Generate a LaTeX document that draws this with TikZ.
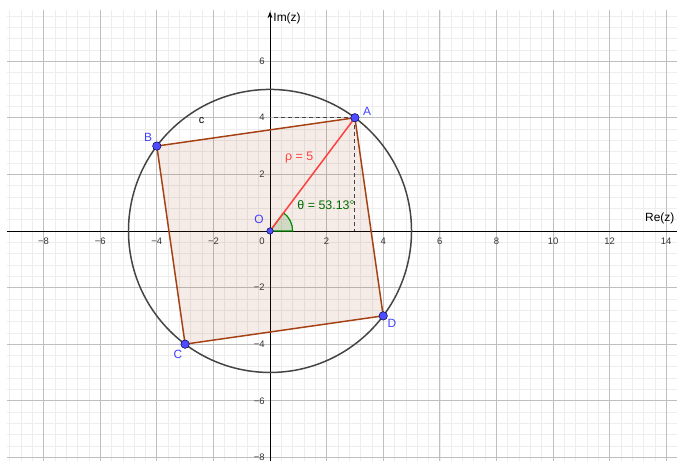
\documentclass[tikz,border=0pt]{standalone}
\usepackage{fontspec}
\setmainfont{Liberation Sans}
\usetikzlibrary{arrows.meta,positioning}
\definecolor{ptblue}{RGB}{77,77,255}
\definecolor{lblblue}{RGB}{64,64,255}
\definecolor{polybrown}{RGB}{165,65,20}
\definecolor{circgray}{RGB}{68,68,68}
\definecolor{rhored}{RGB}{255,64,64}
\definecolor{anggreen}{RGB}{0,110,0}

\begin{document}
\begin{tikzpicture}[>=Stealth, every node/.style={font=\fontsize{9.5}{10}\selectfont},
    minorgrid/.style={draw=black!7, line width=0.6pt},
    majorgrid/.style={draw=black!25, line width=0.7pt},
    ticklbl/.style={text=black!80, inner sep=1pt},
    pt/.style={circle, fill=ptblue, draw=blue!30!black, line width=0.5pt, inner sep=0pt, minimum size=8.5pt},
    lbl/.style={text=lblblue, font=\fontsize{12}{13}\selectfont, inner sep=0pt}]
    \useasboundingbox (-9.54,-8.13) rectangle (14.38,8.16);

    % Grid
    \draw[minorgrid, step=0.4] (-9.3,-8.13) grid (14.38,7.8);
    \draw[majorgrid, step=2] (-9.3,-8.13) grid (14.38,7.8);

    % Axes
    \draw[line width=0.8pt] (-9.3,0) -- (14.38,0);
    \draw[->, line width=0.8pt] (0,-8.13) -- (0,7.75);
    \node[anchor=west, font=\fontsize{12}{13}\selectfont, inner sep=1pt] (imlbl) at (0.08,7.5) {Im(z)};
    \node[anchor=east, font=\fontsize{12}{13}\selectfont, inner sep=1pt] (relbl) at (14.33,0.45) {Re(z)};

    % Tick labels
    \foreach \x in {-8,-6,-4,-2,2,4,6,8,10,12,14} {
        \node[ticklbl] (xt\x) at (\x,-0.38) {\ifnum\x<0 −\the\numexpr-\x\relax\else\x\fi};
    }
    \foreach \y in {-8,-6,-4,-2,2,4,6} {
        \node[ticklbl, anchor=east] (yt\y) at (-0.15,\y) {\ifnum\y<0 −\the\numexpr-\y\relax\else\y\fi};
    }
    \node[ticklbl] (zero) at (-0.28,-0.35) {0};

    % Points
    \coordinate (O) at (0,0);
    \coordinate (A) at (3,4);
    \coordinate (B) at (-4,3);
    \coordinate (C) at (-3,-4);
    \coordinate (D) at (4,-3);
    \coordinate (Ay) at (0,4);
    \coordinate (Ax) at (3,0);

    % Square
    \fill[polybrown, fill opacity=0.1] (A) -- (B) -- (C) -- (D) -- cycle;
    \draw[polybrown, line width=1.5pt, line join=round] (A) -- (B) -- (C) -- (D) -- cycle;

    % Circle c
    \draw[circgray, line width=1.5pt] (O) circle (5);
    \node[font=\fontsize{11}{12}\selectfont] (clbl) at (-2.42,3.89) {c};

    % Projections of A
    \draw[circgray, line width=1pt, dash pattern=on 4pt off 3pt] (A) -- (Ay);
    \draw[circgray, line width=1pt, dash pattern=on 4pt off 3pt] (A) -- (Ax);

    % Angle theta
    \fill[anggreen, fill opacity=0.15] (O) -- (0.8,0) arc (0:53.13:0.8) -- cycle;
    \draw[anggreen!80!green, line width=1.2pt] (O) -- (0.8,0) arc (0:53.13:0.8) -- cycle;
    \node[text=anggreen, font=\fontsize{12.5}{13}\selectfont] (theta) at (1.98,0.9) {θ = 53.13°};

    % Modulus rho
    \draw[rhored, line width=1.5pt] (O) -- (A);
    \node[text=rhored, font=\fontsize{12.5}{13}\selectfont] (rho) at (1.03,2.6) {ρ = 5};

    % Vertices
    \node[pt, minimum size=6.5pt] (pO) at (O) {};
    \node[pt] (pA) at (A) {};
    \node[pt] (pB) at (B) {};
    \node[pt] (pC) at (C) {};
    \node[pt] (pD) at (D) {};
    \node[lbl] (labO) at (-0.39,0.42) {O};
    \node[lbl] (labA) at (3.43,4.24) {A};
    \node[lbl] (labB) at (-4.31,3.32) {B};
    \node[lbl] (labC) at (-3.25,-4.35) {C};
    \node[lbl] (labD) at (4.31,-3.25) {D};
\end{tikzpicture}
\end{document}
